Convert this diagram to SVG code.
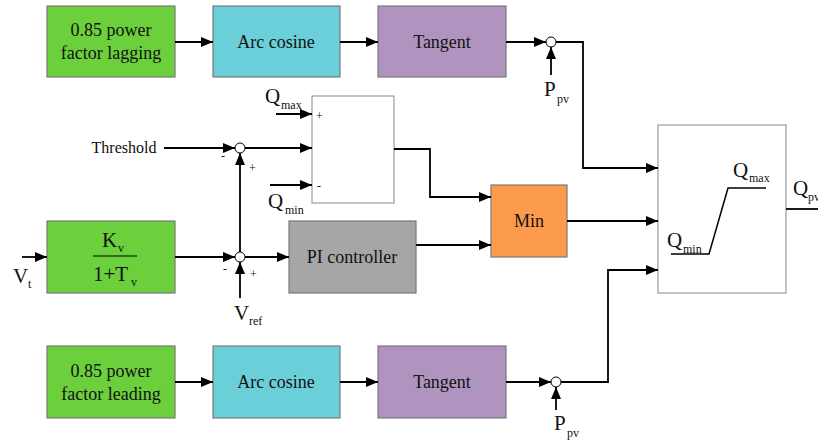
<svg xmlns="http://www.w3.org/2000/svg" width="818" height="440" viewBox="0 0 818 440">
<style>
.box{stroke:#7a7a7a;stroke-width:1.2}
text{font-family:"Liberation Serif","DejaVu Serif",serif;fill:#111}
.bt{font-size:18px;text-anchor:middle}
.l{font-size:21px}
.s{font-size:12px}
.w{fill:none;stroke:#000;stroke-width:1.8}
.c{fill:#fff;stroke:#000;stroke-width:1}
</style>
<defs>
<marker id="a" markerWidth="12" markerHeight="10" refX="12" refY="5" orient="auto" markerUnits="userSpaceOnUse">
<path d="M0,0 L12,5 L0,10 Z" fill="#000"/>
</marker>
</defs>
<rect width="818" height="440" fill="#fff"/>

<g id="lag">
<rect class="box" x="47" y="6" width="128" height="71" fill="#6ccf3c"/>
<text class="bt" font-family="Liberation Serif, serif" x="111" y="36">0.85 power</text>
<text class="bt" font-family="Liberation Serif, serif" x="111" y="59">factor lagging</text>
</g>
<g id="arccos1">
<rect class="box" x="213" y="6" width="127" height="71" fill="#6bcfd9"/>
<text class="bt" x="276" y="48">Arc cosine</text>
</g>
<g id="tan1">
<rect class="box" x="378" y="6" width="128" height="71" fill="#b094bf"/>
<text class="bt" x="442" y="48">Tangent</text>
</g>
<g id="mul1">
<circle class="c" cx="551" cy="42" r="5"/>
</g>
<g id="ppv1">
<text class="l" x="544" y="96">P</text>
<text class="s" x="557" y="103">pv</text>
</g>

<g id="limiter">
<rect x="312" y="96" width="82" height="107" fill="#fff" stroke="#888" stroke-width="1"/>
<text class="s" x="316" y="120">+</text>
<text class="s" x="317" y="190">-</text>
</g>
<g id="qmax1">
<text class="l" x="265" y="103">Q</text>
<text class="s" x="281" y="109">max</text>
</g>
<g id="qmin1">
<text class="l" x="268" y="208">Q</text>
<text class="s" x="285" y="214">min</text>
</g>
<g id="threshold">
<text class="bt" x="124" y="153" style="font-size:16px">Threshold</text>
</g>
<g id="sum1">
<circle class="c" cx="240" cy="148" r="5"/>
<text class="s" x="221" y="160">-</text>
<text class="s" x="249" y="172">+</text>
</g>

<g id="kv">
<rect class="box" x="47" y="221" width="128" height="72" fill="#6ccf3c"/>
<text class="l" x="102" y="247">K</text>
<text class="s" x="118" y="252">v</text>
<line x1="93" y1="256" x2="137" y2="256" stroke="#000" stroke-width="1.2"/>
<text class="l" x="93" y="281">1+T</text>
<text class="s" x="131" y="286">v</text>
</g>
<g id="vt">
<text class="l" x="13" y="283">V</text>
<text class="s" x="28" y="288">t</text>
</g>
<g id="sum2">
<circle class="c" cx="240" cy="257" r="5"/>
<text class="s" x="223" y="273">-</text>
<text class="s" x="250" y="278">+</text>
</g>
<g id="vref">
<text class="l" x="234" y="320">V</text>
<text class="s" x="249" y="325">ref</text>
</g>
<g id="pi">
<rect class="box" x="289" y="221" width="127" height="72" fill="#a6a6a6"/>
<text class="bt" x="352" y="263">PI controller</text>
</g>
<g id="min">
<rect class="box" x="491" y="185" width="76" height="72" fill="#fb9b4b"/>
<text class="bt" x="529" y="227">Min</text>
</g>

<g id="sat">
<rect x="658" y="125" width="128" height="168" fill="#fff" stroke="#888" stroke-width="1"/>
<path d="M671,254 H709 L728,188 H766" fill="none" stroke="#000" stroke-width="1.5"/>
<text class="l" x="667" y="247">Q</text>
<text class="s" x="683" y="253">min</text>
<text class="l" x="733" y="177">Q</text>
<text class="s" x="749" y="182">max</text>
</g>
<g id="qpv">
<text class="l" x="793" y="195">Q</text>
<text class="s" x="808" y="201">pv</text>
</g>

<g id="lead">
<rect class="box" x="47" y="346" width="128" height="72" fill="#6ccf3c"/>
<text class="bt" x="111" y="377">0.85 power</text>
<text class="bt" x="111" y="400">factor leading</text>
</g>
<g id="arccos2">
<rect class="box" x="213" y="346" width="127" height="72" fill="#6bcfd9"/>
<text class="bt" x="276" y="388">Arc cosine</text>
</g>
<g id="tan2">
<rect class="box" x="378" y="346" width="128" height="72" fill="#b094bf"/>
<text class="bt" x="442" y="388">Tangent</text>
</g>
<g id="mul2">
<circle class="c" cx="556" cy="382" r="5"/>
</g>
<g id="ppv2">
<text class="l" x="554" y="430">P</text>
<text class="s" x="567" y="437">pv</text>
</g>

<g id="connectors">
<line class="w" x1="175" y1="42" x2="213" y2="42" marker-end="url(#a)"/>
<line class="w" x1="340" y1="42" x2="378" y2="42" marker-end="url(#a)"/>
<line class="w" x1="506" y1="42" x2="546" y2="42" marker-end="url(#a)"/>
<line class="w" x1="551" y1="75" x2="551" y2="47" marker-end="url(#a)"/>
<path class="w" d="M556,42 H583 V168 H658" marker-end="url(#a)"/>

<line class="w" x1="276" y1="114" x2="312" y2="114" marker-end="url(#a)"/>
<line class="w" x1="270" y1="185" x2="312" y2="185" marker-end="url(#a)"/>
<line class="w" x1="164" y1="148" x2="235" y2="148" marker-end="url(#a)"/>
<line class="w" x1="245" y1="148" x2="312" y2="148" marker-end="url(#a)"/>
<path class="w" d="M394,149 H430 V197 H491" marker-end="url(#a)"/>

<line class="w" x1="22" y1="257" x2="47" y2="257" marker-end="url(#a)"/>
<line class="w" x1="175" y1="257" x2="235" y2="257" marker-end="url(#a)"/>
<line class="w" x1="240" y1="252" x2="240" y2="153" marker-end="url(#a)"/>
<line class="w" x1="240" y1="298" x2="240" y2="262" marker-end="url(#a)"/>
<line class="w" x1="245" y1="257" x2="289" y2="257" marker-end="url(#a)"/>
<line class="w" x1="416" y1="245" x2="491" y2="245" marker-end="url(#a)"/>
<line class="w" x1="567" y1="221" x2="658" y2="221" marker-end="url(#a)"/>
<line class="w" x1="786" y1="209" x2="818" y2="209"/>

<line class="w" x1="175" y1="382" x2="213" y2="382" marker-end="url(#a)"/>
<line class="w" x1="340" y1="382" x2="378" y2="382" marker-end="url(#a)"/>
<line class="w" x1="506" y1="382" x2="551" y2="382" marker-end="url(#a)"/>
<line class="w" x1="556" y1="410" x2="556" y2="387" marker-end="url(#a)"/>
<path class="w" d="M561,382 H608 V270 H658" marker-end="url(#a)"/>
</g>
</svg>
